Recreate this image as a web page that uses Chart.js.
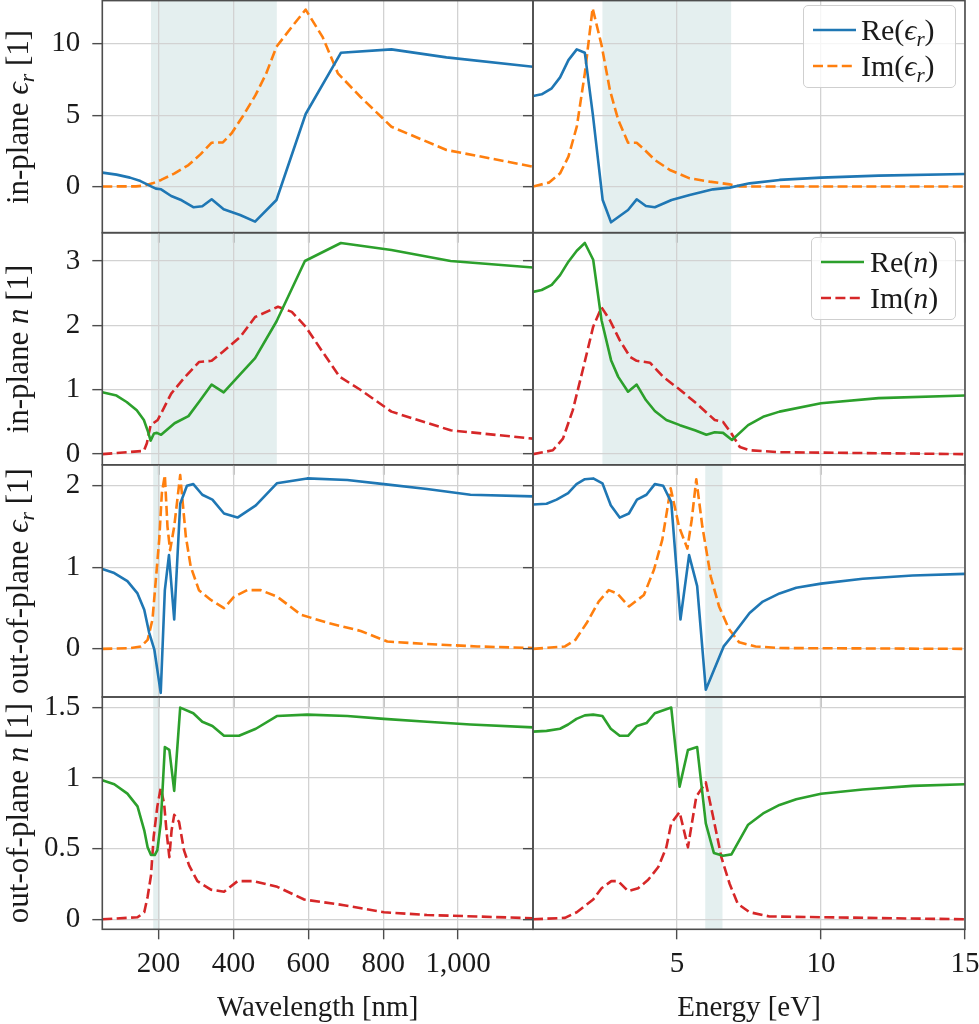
<!DOCTYPE html>
<html>
<head>
<meta charset="utf-8">
<script src="https://cdn.jsdelivr.net/npm/chart.js@4.4.1/dist/chart.umd.min.js"></script>
<style>
html,body{margin:0;padding:0;background:#ffffff;}
#wrap{position:relative;width:979px;height:1024px;overflow:hidden;font-family:'Liberation Serif','DejaVu Serif',serif;color:#1a1a1a;}
#wrap canvas{position:absolute;left:0;top:0;}
.ytitle{position:absolute;white-space:nowrap;font-size:31px;line-height:1;transform:translate(-50%,-50%) rotate(-90deg);}
.xtitle{position:absolute;white-space:nowrap;font-size:29px;line-height:1;transform:translate(-50%,-50%);}
.legend{position:absolute;background:rgba(255,255,255,0.8);border:1.3px solid #cfcfcf;border-radius:5px;box-sizing:border-box;}
.legend svg{position:absolute;left:0;top:0;}
.legend .lt{position:absolute;white-space:nowrap;font-size:30px;line-height:1;transform:translateY(-50%);}
.sub{font-size:0.7em;position:relative;top:0.28em;}
.m{font-style:italic;}
</style>
</head>
<body>
<div id="wrap"></div>
<script>
// ---------------- data ----------------
const wavelengthRange = [50, 1200];
const energyRange = [0, 15];
const wavelengthTicks = [200, 400, 600, 800, 1000];
const wavelengthTickLabels = ['200', '400', '600', '800', '1,000'];
const energyTicks = [5, 10, 15];
const energyTickLabels = ['5', '10', '15'];

const row1YRange = [-3.24, 13.03];
const row1YTicks = [0, 5, 10];
const row1YTickLabels = ['0', '5', '10'];
const row2YRange = [-0.166, 3.44];
const row2YTicks = [0, 1, 2, 3];
const row2YTickLabels = ['0', '1', '2', '3'];
const row3YRange = [-0.59, 2.257];
const row3YTicks = [0, 1, 2];
const row3YTickLabels = ['0', '1', '2'];
const row4YRange = [-0.071, 1.575];
const row4YTicks = [0, 0.5, 1, 1.5];
const row4YTickLabels = ['0', '0.5', '1', '1.5'];

// shaded (hyperbolic) bands
const shadeInPlaneWl = [180, 516];
const shadeInPlaneEv = [2.41, 6.88];
const shadeOutPlaneWl = [186, 204];
const shadeOutPlaneEv = [5.98, 6.58];

// row 1: in-plane epsilon
const ipEpsRe_wl_x = [50, 88, 124, 152, 179, 193, 207, 234, 262, 294, 317, 342, 374, 418, 458, 515, 593, 687, 822, 969, 1200];
const ipEpsRe_wl_y = [0.97, 0.83, 0.62, 0.38, 0.03, -0.15, -0.2, -0.67, -0.97, -1.46, -1.39, -0.90, -1.60, -2.0, -2.46, -0.95, 5.08, 9.37, 9.61, 9.05, 8.39];
const ipEpsIm_wl_x = [50, 140, 161, 184, 207, 243, 280, 312, 342, 372, 395, 427, 459, 487, 515, 556, 593, 638, 679, 739, 822, 969, 1200];
const ipEpsIm_wl_y = [0, 0.01, 0.06, 0.22, 0.46, 0.92, 1.5, 2.25, 3.07, 3.09, 3.72, 5.0, 6.4, 7.88, 9.79, 11.19, 12.4, 10.49, 7.93, 6.29, 4.19, 2.56, 1.39];
const ipEpsRe_ev_x = [0, 0.30, 0.65, 0.94, 1.23, 1.52, 1.80, 2.08, 2.42, 2.71, 3.30, 3.60, 3.92, 4.23, 4.81, 5.44, 6.25, 6.83, 7.52, 8.56, 10.0, 12.0, 15];
const ipEpsRe_ev_y = [6.34, 6.46, 6.88, 7.65, 8.86, 9.61, 9.37, 5.0, -0.95, -2.51, -1.65, -0.90, -1.37, -1.46, -0.95, -0.60, -0.20, -0.08, 0.22, 0.46, 0.62, 0.76, 0.88];
const ipEpsIm_ev_x = [0, 0.55, 0.94, 1.23, 1.52, 1.80, 2.07, 2.38, 2.67, 2.96, 3.30, 3.60, 3.88, 4.23, 4.75, 5.44, 6.13, 6.83, 7.18, 15];
const ipEpsIm_ev_y = [0, 0.27, 0.92, 2.09, 4.19, 7.93, 12.5, 9.91, 6.76, 4.66, 3.07, 3.07, 2.56, 1.86, 1.16, 0.57, 0.34, 0.15, 0, 0];

// row 2: in-plane refractive index
const ipNRe_wl_x = [50, 88, 115, 142, 161, 172, 179, 188, 196, 207, 243, 280, 312, 342, 374, 418, 458, 515, 591, 687, 822, 980, 1200];
const ipNRe_wl_y = [0.96, 0.91, 0.81, 0.68, 0.53, 0.35, 0.21, 0.32, 0.33, 0.30, 0.48, 0.59, 0.84, 1.08, 0.96, 1.24, 1.49, 2.06, 3.0, 3.28, 3.17, 3.0, 2.90];
const ipNIm_wl_x = [50, 161, 169, 179, 198, 234, 271, 308, 342, 372, 418, 458, 519, 556, 593, 638, 684, 739, 822, 980, 1200];
const ipNIm_wl_y = [0, 0.05, 0.17, 0.45, 0.53, 0.94, 1.20, 1.43, 1.45, 1.59, 1.82, 2.13, 2.29, 2.21, 1.98, 1.59, 1.20, 1.0, 0.66, 0.37, 0.24];
const ipNRe_ev_x = [0, 0.30, 0.65, 0.94, 1.23, 1.52, 1.80, 2.09, 2.38, 2.71, 2.96, 3.30, 3.60, 3.92, 4.23, 4.63, 5.10, 5.62, 6.02, 6.31, 6.60, 6.91, 7.47, 7.99, 8.56, 10.0, 12.0, 15];
const ipNRe_ev_y = [2.52, 2.55, 2.63, 2.78, 2.99, 3.16, 3.28, 3.02, 2.08, 1.46, 1.20, 0.97, 1.08, 0.84, 0.67, 0.53, 0.45, 0.37, 0.30, 0.34, 0.33, 0.22, 0.45, 0.58, 0.66, 0.79, 0.87, 0.91];
const ipNIm_ev_x = [0, 0.69, 1.04, 1.38, 1.73, 2.09, 2.38, 2.67, 3.01, 3.37, 3.60, 4.06, 4.52, 5.10, 5.67, 6.31, 6.60, 6.89, 7.18, 7.52, 8.56, 15];
const ipNIm_ev_y = [0, 0.06, 0.24, 0.68, 1.31, 1.98, 2.28, 2.08, 1.77, 1.51, 1.45, 1.42, 1.20, 1.0, 0.79, 0.53, 0.50, 0.32, 0.11, 0.06, 0.03, 0];

// row 3: out-of-plane epsilon
const opEpsRe_wl_x = [50, 82, 117, 144, 162, 175, 189, 206, 217, 228, 242, 258, 276, 293, 317, 344, 375, 411, 460, 516, 597, 704, 802, 917, 1033, 1200];
const opEpsRe_wl_y = [0.98, 0.93, 0.83, 0.68, 0.48, 0.20, -0.01, -0.54, 0.72, 1.15, 0.36, 1.78, 2.0, 2.02, 1.89, 1.83, 1.66, 1.61, 1.76, 2.03, 2.09, 2.07, 2.02, 1.96, 1.89, 1.87];
const opEpsIm_wl_x = [50, 126, 153, 171, 184, 202, 209, 217, 224, 231, 242, 258, 273, 286, 308, 340, 375, 402, 437, 473, 517, 580, 651, 740, 811, 917, 1051, 1200];
const opEpsIm_wl_y = [0, 0.01, 0.03, 0.11, 0.36, 1.34, 1.91, 2.13, 1.50, 1.21, 1.50, 2.13, 1.38, 1.01, 0.72, 0.60, 0.50, 0.64, 0.72, 0.72, 0.64, 0.42, 0.32, 0.22, 0.09, 0.06, 0.03, 0.01];
const opEpsRe_ev_x = [0, 0.47, 0.82, 1.22, 1.51, 1.80, 2.09, 2.41, 2.70, 3.01, 3.33, 3.61, 3.94, 4.23, 4.52, 4.80, 5.12, 5.42, 5.70, 6.00, 6.62, 6.94, 7.52, 7.98, 8.56, 9.14, 10.0, 11.45, 13.18, 15];
const opEpsRe_ev_y = [1.77, 1.78, 1.83, 1.91, 2.02, 2.08, 2.09, 2.03, 1.76, 1.61, 1.66, 1.83, 1.89, 2.02, 2.0, 1.80, 0.36, 1.15, 0.77, -0.50, 0.03, 0.17, 0.44, 0.58, 0.68, 0.75, 0.80, 0.86, 0.90, 0.92];
const opEpsIm_ev_x = [0, 1.11, 1.47, 1.87, 2.28, 2.63, 2.92, 3.33, 3.85, 4.20, 4.49, 4.78, 5.07, 5.36, 5.51, 5.67, 5.88, 6.17, 6.46, 6.81, 7.16, 7.73, 8.56, 15];
const opEpsIm_ev_y = [0, 0.03, 0.11, 0.32, 0.58, 0.72, 0.68, 0.52, 0.66, 0.97, 1.34, 1.97, 1.50, 1.23, 1.58, 2.08, 1.50, 0.89, 0.52, 0.24, 0.08, 0.03, 0.01, 0];

// row 4: out-of-plane refractive index
const opNRe_wl_x = [50, 82, 117, 144, 162, 171, 180, 190, 197, 206, 217, 229, 242, 258, 293, 317, 344, 375, 415, 460, 516, 597, 704, 802, 917, 1033, 1200];
const opNRe_wl_y = [0.985, 0.957, 0.89, 0.80, 0.63, 0.51, 0.455, 0.455, 0.49, 0.68, 1.22, 1.20, 0.91, 1.50, 1.46, 1.40, 1.37, 1.30, 1.30, 1.35, 1.44, 1.45, 1.44, 1.42, 1.40, 1.38, 1.36];
const opNIm_wl_x = [50, 144, 162, 171, 180, 187, 197, 206, 215, 222, 229, 235, 242, 255, 268, 282, 304, 340, 375, 411, 455, 517, 589, 695, 802, 917, 1051, 1200];
const opNIm_wl_y = [0, 0.014, 0.05, 0.16, 0.31, 0.58, 0.80, 0.93, 0.82, 0.61, 0.44, 0.63, 0.74, 0.69, 0.49, 0.38, 0.27, 0.21, 0.195, 0.27, 0.27, 0.23, 0.14, 0.10, 0.05, 0.03, 0.02, 0.007];
const opNRe_ev_x = [0, 0.47, 0.94, 1.22, 1.51, 1.80, 2.09, 2.41, 2.70, 3.01, 3.30, 3.61, 3.94, 4.23, 4.80, 5.09, 5.38, 5.70, 6.00, 6.28, 6.60, 6.89, 7.47, 7.99, 8.56, 9.14, 10.0, 11.45, 13.18, 15];
const opNRe_ev_y = [1.33, 1.335, 1.35, 1.38, 1.42, 1.445, 1.45, 1.44, 1.35, 1.30, 1.30, 1.37, 1.39, 1.46, 1.50, 0.94, 1.20, 1.22, 0.68, 0.47, 0.45, 0.46, 0.67, 0.75, 0.81, 0.85, 0.89, 0.92, 0.945, 0.957];
const opNIm_ev_x = [0, 1.11, 1.52, 2.09, 2.38, 2.72, 2.96, 3.30, 3.65, 4.00, 4.35, 4.63, 4.80, 5.09, 5.38, 5.67, 6.00, 6.25, 6.54, 6.83, 7.11, 7.52, 8.21, 15];
const opNIm_ev_y = [0, 0.01, 0.05, 0.14, 0.22, 0.27, 0.27, 0.20, 0.22, 0.28, 0.37, 0.51, 0.68, 0.76, 0.51, 0.87, 0.97, 0.73, 0.44, 0.25, 0.11, 0.05, 0.02, 0];

// ---------------- styles / layout ----------------
const W = 979, H = 1024;
const COLS = [[102.3, 533], [533, 965]];
const ROWS = [[0.6, 232.7], [232.7, 464.8], [464.8, 697], [697, 929.3]];
const BLUE = '#1f77b4', ORANGE = '#ff7f0e', GREEN = '#2ca02c', RED = '#d62728';
const GRID = '#d2d2d2', FRAME = '#4d4d4d', TEXT = '#1a1a1a';
const SHADE = 'rgba(95,158,160,0.17)';
const FONT = {family: "'Liberation Serif','DejaVu Serif',serif", size: 29};

Chart.defaults.font.family = FONT.family;
Chart.defaults.font.size = FONT.size;
Chart.defaults.color = TEXT;

function pairs(xs, ys) { return xs.map((x, i) => ({x: x, y: ys[i]})); }

const rowDefs = [
  {yr: row1YRange, yt: row1YTicks, yl: row1YTickLabels},
  {yr: row2YRange, yt: row2YTicks, yl: row2YTickLabels},
  {yr: row3YRange, yt: row3YTicks, yl: row3YTickLabels},
  {yr: row4YRange, yt: row4YTicks, yl: row4YTickLabels}
];
const colDefs = [
  {xr: wavelengthRange, xt: wavelengthTicks, xl: wavelengthTickLabels},
  {xr: energyRange, xt: energyTicks, xl: energyTickLabels}
];

const panels = [
  {r:0, c:0, shade: shadeInPlaneWl, s: [['Re(ε_r)', ipEpsRe_wl_x, ipEpsRe_wl_y, BLUE, false], ['Im(ε_r)', ipEpsIm_wl_x, ipEpsIm_wl_y, ORANGE, true]]},
  {r:0, c:1, shade: shadeInPlaneEv, s: [['Re(ε_r)', ipEpsRe_ev_x, ipEpsRe_ev_y, BLUE, false], ['Im(ε_r)', ipEpsIm_ev_x, ipEpsIm_ev_y, ORANGE, true]]},
  {r:1, c:0, shade: shadeInPlaneWl, s: [['Re(n)', ipNRe_wl_x, ipNRe_wl_y, GREEN, false], ['Im(n)', ipNIm_wl_x, ipNIm_wl_y, RED, true]]},
  {r:1, c:1, shade: shadeInPlaneEv, s: [['Re(n)', ipNRe_ev_x, ipNRe_ev_y, GREEN, false], ['Im(n)', ipNIm_ev_x, ipNIm_ev_y, RED, true]]},
  {r:2, c:0, shade: shadeOutPlaneWl, s: [['Re(ε_r)', opEpsRe_wl_x, opEpsRe_wl_y, BLUE, false], ['Im(ε_r)', opEpsIm_wl_x, opEpsIm_wl_y, ORANGE, true]]},
  {r:2, c:1, shade: shadeOutPlaneEv, s: [['Re(ε_r)', opEpsRe_ev_x, opEpsRe_ev_y, BLUE, false], ['Im(ε_r)', opEpsIm_ev_x, opEpsIm_ev_y, ORANGE, true]]},
  {r:3, c:0, shade: shadeOutPlaneWl, s: [['Re(n)', opNRe_wl_x, opNRe_wl_y, GREEN, false], ['Im(n)', opNIm_wl_x, opNIm_wl_y, RED, true]]},
  {r:3, c:1, shade: shadeOutPlaneEv, s: [['Re(n)', opNRe_ev_x, opNRe_ev_y, GREEN, false], ['Im(n)', opNIm_ev_x, opNIm_ev_y, RED, true]]}
];

function fixedFit(horizontal, size) {
  return function (scale) {
    if (horizontal) scale.height = size; else scale.width = size;
    scale.paddingLeft = 0; scale.paddingRight = 0; scale.paddingTop = 0; scale.paddingBottom = 0;
  };
}

const wrap = document.getElementById('wrap');

panels.forEach((p, idx) => {
  const rd = rowDefs[p.r], cd = colDefs[p.c];
  const col = COLS[p.c], row = ROWS[p.r];
  const showX = p.r === 3, showY = p.c === 0;
  const cv = document.createElement('canvas');
  cv.width = W; cv.height = H;
  cv.style.width = W + 'px'; cv.style.height = H + 'px';
  wrap.appendChild(cv);

  const shadePlugin = {
    id: 'shade' + idx,
    beforeDraw(chart) {
      const {ctx, chartArea, scales} = chart;
      const x0 = scales.x.getPixelForValue(p.shade[0]);
      const x1 = scales.x.getPixelForValue(p.shade[1]);
      ctx.save();
      ctx.fillStyle = SHADE;
      ctx.fillRect(x0, chartArea.top, x1 - x0, chartArea.bottom - chartArea.top);
      ctx.restore();
    }
  };
  const framePlugin = {
    id: 'frame' + idx,
    afterDraw(chart) {
      const {ctx, chartArea} = chart;
      ctx.save();
      ctx.strokeStyle = FRAME;
      ctx.lineWidth = 1.6;
      ctx.strokeRect(chartArea.left, chartArea.top, chartArea.right - chartArea.left, chartArea.bottom - chartArea.top);
      ctx.restore();
    }
  };

  new Chart(cv, {
    type: 'line',
    data: {
      datasets: p.s.map(s => ({
        label: s[0],
        data: pairs(s[1], s[2]),
        borderColor: s[3],
        backgroundColor: s[3],
        borderWidth: 2.6,
        borderDash: s[4] ? [10, 4.4] : [],
        borderCapStyle: 'butt',
        borderJoinStyle: 'round',
        pointRadius: 0,
        tension: 0,
        fill: false
      }))
    },
    options: {
      responsive: false,
      animation: false,
      events: [],
      layout: {autoPadding: false, padding: {
        left: showY ? 0 : col[0],
        right: W - col[1],
        top: row[0],
        bottom: showX ? 0 : H - row[1]
      }},
      plugins: {legend: {display: false}, tooltip: {enabled: false}},
      scales: {
        x: {
          type: 'linear', position: 'bottom',
          min: cd.xr[0], max: cd.xr[1],
          afterBuildTicks: (sc) => { sc.ticks = cd.xt.map(v => ({value: v})); },
          afterFit: fixedFit(true, showX ? H - row[1] : 0),
          ticks: {
            display: showX,
            autoSkip: false, maxRotation: 0, minRotation: 0,
            padding: 8, color: TEXT,
            callback: (v) => cd.xl[cd.xt.indexOf(v)]
          },
          grid: {color: GRID, lineWidth: 1.3, drawTicks: true, tickLength: 10, tickColor: FRAME, tickWidth: 1.4},
          border: {display: false}
        },
        y: {
          type: 'linear', position: 'left',
          min: rd.yr[0], max: rd.yr[1],
          afterBuildTicks: (sc) => { sc.ticks = rd.yt.map(v => ({value: v})); },
          afterFit: fixedFit(false, showY ? col[0] : 0),
          ticks: {
            display: showY,
            autoSkip: false,
            padding: 12, color: TEXT,
            callback: (v) => rd.yl[rd.yt.indexOf(v)]
          },
          grid: {color: GRID, lineWidth: 1.3, drawTicks: true, tickLength: 10, tickColor: FRAME, tickWidth: 1.4},
          border: {display: false}
        }
      }
    },
    plugins: [shadePlugin, framePlugin]
  });
});

// ---------------- titles and legends (HTML text) ----------------
function addDiv(cls, html, left, top) {
  const d = document.createElement('div');
  d.className = cls; d.innerHTML = html;
  d.style.left = left + 'px'; d.style.top = top + 'px';
  wrap.appendChild(d);
  return d;
}
const eps = '<span class="m">ϵ<span class="sub">r</span></span>';
const yTitles = ['in-plane ' + eps + ' [1]', 'in-plane <span class="m">n</span> [1]',
                 'out-of-plane ' + eps + ' [1]', 'out-of-plane <span class="m">n</span> [1]'];
yTitles.forEach((t, i) => addDiv('ytitle', t, 17, (ROWS[i][0] + ROWS[i][1]) / 2));
addDiv('xtitle', 'Wavelength [nm]', (COLS[0][0] + COLS[0][1]) / 2, 1006);
addDiv('xtitle', 'Energy [eV]', (COLS[1][0] + COLS[1][1]) / 2, 1006);

function legend(left, top, w, h, items) {
  const box = document.createElement('div');
  box.className = 'legend';
  box.style.left = left + 'px'; box.style.top = top + 'px';
  box.style.width = w + 'px'; box.style.height = h + 'px';
  let svg = '<svg width="' + w + '" height="' + h + '">';
  items.forEach(it => {
    svg += '<line x1="9" x2="52" y1="' + it.y + '" y2="' + it.y + '" stroke="' + it.color +
      '" stroke-width="2.6"' + (it.dashed ? ' stroke-dasharray="10 4.4"' : '') + '/>';
  });
  svg += '</svg>';
  box.innerHTML = svg;
  items.forEach(it => {
    const t = document.createElement('div');
    t.className = 'lt'; t.innerHTML = it.html;
    t.style.left = it.tx + 'px'; t.style.top = it.y + 'px';
    box.appendChild(t);
  });
  wrap.appendChild(box);
}
legend(803, 5, 153, 83, [
  {y: 24, color: BLUE, dashed: false, tx: 57, html: 'Re(' + eps + ')'},
  {y: 60, color: ORANGE, dashed: true, tx: 57, html: 'Im(' + eps + ')'}
]);
legend(811, 237, 145, 83, [
  {y: 24, color: GREEN, dashed: false, tx: 58, html: 'Re(<span class="m">n</span>)'},
  {y: 60, color: RED, dashed: true, tx: 58, html: 'Im(<span class="m">n</span>)'}
]);
</script>
</body>
</html>
